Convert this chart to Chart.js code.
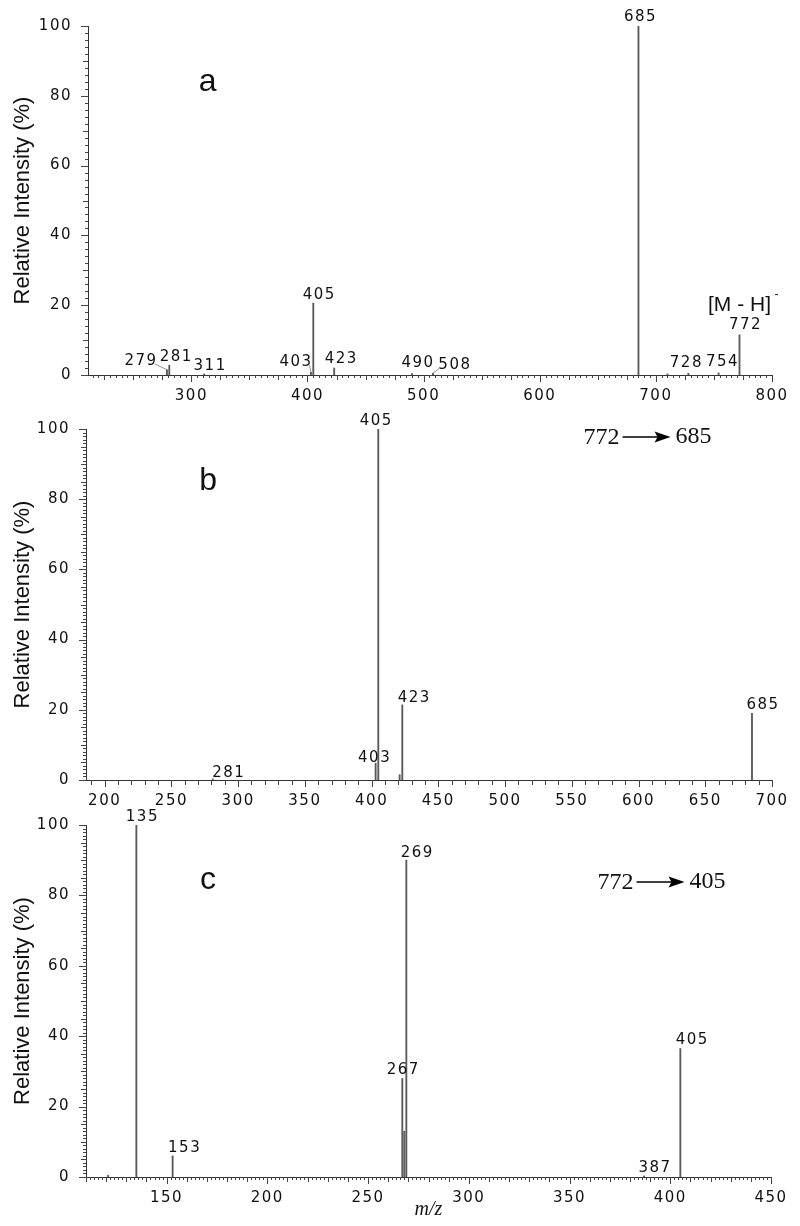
<!DOCTYPE html>
<html>
<head>
<meta charset="utf-8">
<script src="https://cdn.jsdelivr.net/npm/chart.js@4.4.1/dist/chart.umd.min.js"></script>
<style>
	html, body { margin: 0; padding: 0; background: #fff; }
	#wrap { position: relative; width: 800px; height: 1226px; }
	canvas { position: absolute; left: 0; }
</style>
</head>
<body>
<div id="wrap">
	<canvas id="specA" width="800" height="405" style="top:0px"></canvas>
	<canvas id="specB" width="800" height="400" style="top:405px"></canvas>
	<canvas id="specC" width="800" height="421" style="top:805px"></canvas>
</div>
<script>
// :: a - full scan, [M - H]- 772
var mzA = [279, 281, 311, 403, 405, 423, 490, 508, 685, 710, 728, 754, 772];
var intA = [1.5, 2.8, 0.3, 0.8, 20.6, 2.0, 0.4, 0.5, 100, 0.3, 0.5, 0.6, 11.5];
var lblA = ['279', '281', '311', '403', '405', '423', '490', '508', '685', '', '728', '754', '772'];
var xTicksA = [300, 400, 500, 600, 700, 800];

// :: b - 772 -> 685
var mzB = [281, 403, 405, 421, 423, 685];
var intB = [0.3, 4.8, 100, 1.5, 21.4, 19];
var lblB = ['281', '403', '405', '', '423', '685'];
var xTicksB = [200, 250, 300, 350, 400, 450, 500, 550, 600, 650, 700];

// :: c - 772 -> 405
var mzC = [121, 135, 153, 267, 268, 269, 387, 405];
var intC = [0.5, 100, 6, 28, 13, 90, 0.3, 36.5];
var lblC = ['', '135', '153', '267', '', '269', '387', '405'];
var xTicksC = [150, 200, 250, 300, 350, 400, 450];

var yTicks = [0, 20, 40, 60, 80, 100];

// layout / style per panel
var specs = {
	specA: {
		mz: mzA, inten: intA, lbl: lblA, xTicks: xTicksA, xMin: 211, xMax: 800,
		box: { top: 26, right: 28, left: 88, axis: 30 },
		marks: { xMinor: 5, xMid: 25, xMajor: 100, yMinor: 2, yMid: 10 },
		nudge: {
			'279': [-27, -9, 1], '281': [6, -8], '311': [5, -8], '403': [-16, -10, 1],
			'405': [5, -8], '423': [6, -9], '490': [5, -10], '508': [21, -8, 1],
			'685': [1, -9], '728': [-3, -10], '754': [3, -11], '772': [5, -10]
		},
		panel: { t: 'a', x: 314, y: 84 },
		ion: { x: 772, y: 20 },
		trans: null,
		xTitle: false
	},
	specB: {
		mz: mzB, inten: intB, lbl: lblB, xTicks: xTicksB, xMin: 186, xMax: 700,
		box: { top: 24, right: 28, left: 86, axis: 25 },
		marks: { xMinor: 10, xMid: 10, xMajor: 50, yMinor: 1, yMid: 5 },
		nudge: {
			'281': [15, -6], '403': [-2, -5], '405': [-3, -8], '423': [11, -7], '685': [10, -8]
		},
		panel: { t: 'b', x: 277.5, y: 85 },
		ion: null,
		trans: { from: '772', to: '685', x: 558.8, y: 97.7 },
		xTitle: false
	},
	specC: {
		mz: mzC, inten: intC, lbl: lblC, xTicks: xTicksC, xMin: 110, xMax: 450,
		box: { top: 20, right: 29, left: 86, axis: 49 },
		marks: { xMinor: 2, xMid: 10, xMajor: 50, yMinor: 1, yMid: 5 },
		nudge: {
			'135': [5, -8], '153': [11, -8], '267': [0, -8], '269': [10, -7], '387': [10, -8], '405': [11, -8]
		},
		panel: { t: 'c', x: 170.6, y: 84.4 },
		ion: null,
		trans: { from: '772', to: '405', x: 363.9, y: 83.8 },
		xTitle: true
	}
};

var numFamily = '"DejaVu Sans", Verdana, sans-serif';
var numFont = '15px ' + numFamily;

var spacing = {
	id: 'spacing',
	beforeUpdate: function (chart) { chart.ctx.letterSpacing = '1.5px'; },
	beforeDraw: function (chart) { chart.ctx.letterSpacing = '1.5px'; }
};

var decor = {
	id: 'decor',
	afterDraw: function (chart) {
		var s = specs[chart.canvas.id];
		var ctx = chart.ctx, xs = chart.scales.x, ys = chart.scales.y, a = chart.chartArea;
		var m = s.marks, v, px, len;

		// tick marks
		ctx.save();
		ctx.strokeStyle = '#444';
		ctx.lineWidth = 1;
		ctx.beginPath();
		for (v = Math.ceil(xs.min / m.xMinor) * m.xMinor; v <= xs.max; v += m.xMinor) {
			len = v % m.xMajor === 0 ? 7 : (v % m.xMid === 0 ? 5 : 3);
			px = Math.round(xs.getPixelForValue(v)) + 0.5;
			ctx.moveTo(px, a.bottom);
			ctx.lineTo(px, a.bottom + len);
		}
		for (v = 0; v <= 100; v += m.yMinor) {
			len = v % 20 === 0 ? 7 : (v % m.yMid === 0 ? 5 : 3);
			px = Math.round(ys.getPixelForValue(v)) + 0.5;
			ctx.moveTo(a.left, px);
			ctx.lineTo(a.left - len, px);
		}
		ctx.stroke();
		ctx.restore();

		// peak labels
		var els = chart.getDatasetMeta(0).data;
		ctx.save();
		ctx.font = numFont;
		ctx.fillStyle = '#111';
		ctx.textAlign = 'center';
		ctx.textBaseline = 'middle';
		s.lbl.forEach(function (t, i) {
			if (!t) return;
			var el = els[i];
			var n = s.nudge[t] || [4, -9];
			var cx = el.x + n[0] + 1, cy = el.y + n[1];
			ctx.fillText(t, cx, cy);
			if (n[2]) {
				var w = ctx.measureText(t).width / 2;
				var ex = n[0] < 0 ? cx + w - 3 : cx - w + 1;
				ctx.strokeStyle = '#777';
				ctx.lineWidth = 0.8;
				ctx.beginPath();
				ctx.moveTo(ex, cy + 3);
				ctx.lineTo(el.x, el.y);
				ctx.stroke();
			}
		});
		ctx.restore();

		ctx.save();
		ctx.letterSpacing = '0px';
		ctx.fillStyle = '#111';
		ctx.textAlign = 'center';
		ctx.textBaseline = 'middle';

		// panel letter
		ctx.font = '32px "Liberation Sans", Arial, sans-serif';
		ctx.fillText(s.panel.t, xs.getPixelForValue(s.panel.x), ys.getPixelForValue(s.panel.y));

		// [M - H]-
		if (s.ion) {
			var ix = xs.getPixelForValue(s.ion.x), iy = ys.getPixelForValue(s.ion.y);
			ctx.font = '21px "Liberation Sans", Arial, sans-serif';
			ctx.fillText('[M - H]', ix, iy);
			ctx.font = '12px "Liberation Sans", Arial, sans-serif';
			ctx.fillText('-', ix + 37, iy - 11);
		}

		// precursor -> product
		if (s.trans) {
			var tx = xs.getPixelForValue(s.trans.x), ty = ys.getPixelForValue(s.trans.y);
			ctx.font = '24px "Liberation Serif", "Times New Roman", serif';
			ctx.textAlign = 'left';
			ctx.fillText(s.trans.from, tx, ty + 1);
			ctx.fillText(s.trans.to, tx + 92, ty);
			ctx.strokeStyle = '#000';
			ctx.lineWidth = 1.5;
			ctx.beginPath();
			ctx.moveTo(tx + 39, ty);
			ctx.lineTo(tx + 76, ty);
			ctx.stroke();
			ctx.beginPath();
			ctx.moveTo(tx + 87, ty);
			ctx.lineTo(tx + 71, ty - 5.5);
			ctx.lineTo(tx + 74, ty);
			ctx.lineTo(tx + 71, ty + 5.5);
			ctx.closePath();
			ctx.fillStyle = '#000';
			ctx.fill();
			ctx.fillStyle = '#111';
			ctx.textAlign = 'center';
		}

		// axis titles
		ctx.save();
		ctx.font = '22px "Liberation Sans", Arial, sans-serif';
		ctx.translate(23, (a.top + a.bottom) / 2);
		ctx.rotate(-Math.PI / 2);
		ctx.fillText('Relative Intensity (%)', 0, 0);
		ctx.restore();

		if (s.xTitle) {
			ctx.font = 'italic 20px "Liberation Serif", "Times New Roman", serif';
			ctx.fillText('m/z', (a.left + a.right) / 2, a.bottom + 33);
		}
		ctx.restore();
	}
};

function makeChart(id) {
	var s = specs[id];
	var pts = s.mz.map(function (mz, i) { return { x: mz, y: s.inten[i] }; });
	return new Chart(document.getElementById(id), {
		type: 'bar',
		data: {
			datasets: [{
				data: pts,
				backgroundColor: '#5a5a5a',
				barThickness: 1.2
			}]
		},
		options: {
			responsive: false,
			animation: false,
			devicePixelRatio: 1,
			layout: { padding: { top: s.box.top, right: s.box.right, left: 0, bottom: 0 } },
			plugins: {
				legend: { display: false },
				tooltip: { enabled: false }
			},
			scales: {
				x: {
					type: 'linear',
					min: s.xMin,
					max: s.xMax,
					offset: false,
					grid: { display: false },
					border: { color: '#333', width: 1 },
					afterBuildTicks: function (sc) {
						sc.ticks = s.xTicks.map(function (v) { return { value: v }; });
					},
					afterFit: function (sc) { sc.height = s.box.axis; },
					ticks: {
						autoSkip: false,
						maxRotation: 0,
						padding: 4,
						color: '#111',
						font: { family: numFamily, size: 15 }
					}
				},
				y: {
					min: 0,
					max: 100,
					grid: { display: false },
					border: { color: '#333', width: 1 },
					afterBuildTicks: function (sc) {
						sc.ticks = yTicks.map(function (v) { return { value: v }; });
					},
					afterFit: function (sc) { sc.width = s.box.left; },
					ticks: {
						padding: 8,
						color: '#111',
						font: { family: numFamily, size: 15 }
					}
				}
			}
		},
		plugins: [spacing, decor]
	});
}

makeChart('specA');
makeChart('specB');
makeChart('specC');
</script>
</body>
</html>
